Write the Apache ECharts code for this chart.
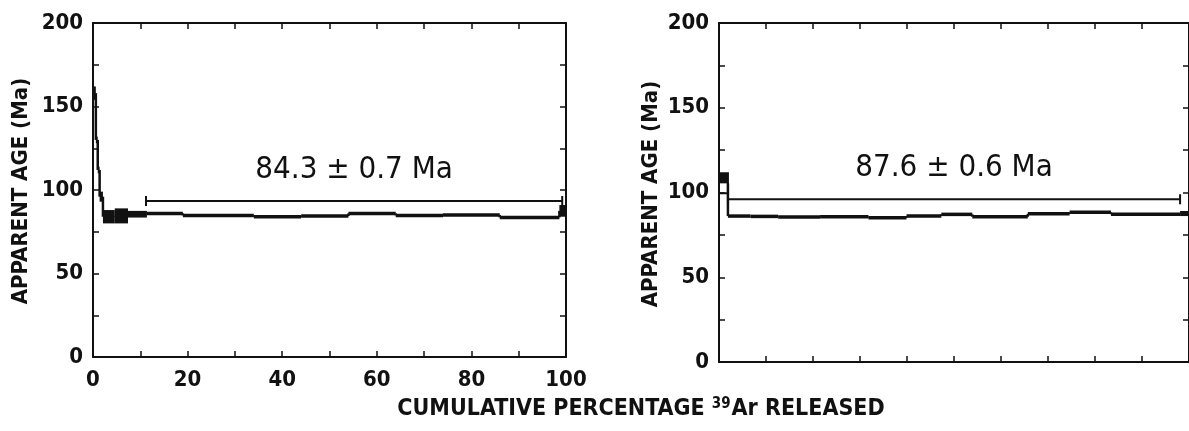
<!DOCTYPE html>
<html>
<head>
<meta charset="utf-8">
<script src="https://cdn.jsdelivr.net/npm/echarts@6/dist/echarts.min.js"></script>
<style>
  html, body { margin: 0; padding: 0; background: #fff; }
  #chart { width: 1189px; height: 431px; }
</style>
</head>
<body>
<div id="chart"></div>
<script>
// step boundaries (cumulative % 39Ar), apparent age and half-height of each box (Ma)
const leftEdges = [0, 0.6, 1.0, 1.4, 2.1, 4.6, 7.4, 11.4, 19, 34, 44, 54, 64, 74, 86, 98.6, 100]
const leftAge = [158, 130, 112, 96, 84, 84.5, 85.5, 86, 84.8, 84, 84.4, 86, 84.8, 85, 83.6, 87.5]
const leftErr = [4, 2, 2, 3, 4, 4.5, 2, 0.8, 0.6, 0.6, 0.6, 0.6, 0.8, 0.6, 0.6, 3.5]
const leftPlateau = [11.2, 99.2, 93.4]
const leftLabel = '84.3 ± 0.7 Ma'

const rightEdges = [0, 1.9, 6.7, 12.6, 21.5, 31.8, 39.9, 47.3, 53.9, 65.7, 74.6, 83.4, 98.1, 100]
const rightAge = [105.4, 86.1, 85.9, 85.6, 85.7, 85.1, 86.1, 87.1, 85.7, 87.4, 88.3, 87.2, 87.6]
const rightErr = [5.9, 0.9, 0.5, 0.5, 0.5, 0.6, 0.5, 0.5, 0.5, 0.5, 0.5, 0.5, 1.5]
const rightOpenSteps = [0]   // drawn as an open box
const rightPlateau = [1.9, 98.1, 96]
const rightLabel = '87.6 ± 0.6 Ma'

const xTicks = [0, 20, 40, 60, 80, 100]
const yTicks = [0, 50, 100, 150, 200]

const FONT = '"DejaVu Sans Condensed", "DejaVu Sans", sans-serif'
const INK = '#111'
const MIN_H = 3.5

function stepRows(edges, ages, errs, open) {
  return ages.map((a, i) => [edges[i], edges[i + 1], a, errs[i], i > 0 ? ages[i - 1] : a, open.includes(i) ? 1 : 0])
}

function renderStep(params, api) {
  const x0 = api.value(0), x1 = api.value(1)
  const age = api.value(2), err = api.value(3), prev = api.value(4), open = api.value(5)
  const p0 = api.coord([x0, age + err])
  const p1 = api.coord([x1, age - err])
  const pc = api.coord([x1, age])
  const thin = p1[1] - p0[1] < MIN_H
  const h = thin ? MIN_H : p1[1] - p0[1]
  const y = thin ? pc[1] - MIN_H / 2 : p0[1]
  const children = []
  if (params.dataIndex > 0) {
    const a = api.coord([x0, prev])
    const b = api.coord([x0, age])
    children.push({ type: 'line', shape: { x1: a[0], y1: a[1], x2: b[0], y2: b[1] }, style: { stroke: INK, lineWidth: 2.5 } })
  }
  if (open) {
    children.push({ type: 'rect', shape: { x: p0[0], y: p0[1], width: p1[0] - p0[0], height: pc[1] - p0[1] }, style: { fill: INK } })
    children.push({ type: 'rect', shape: { x: p0[0], y: p0[1], width: p1[0] - p0[0], height: h }, style: { fill: 'none', stroke: INK, lineWidth: 2 } })
  } else {
    children.push({ type: 'rect', shape: { x: p0[0], y: y, width: p1[0] - p0[0], height: h }, style: { fill: INK } })
  }
  return { type: 'group', children }
}

function renderPlateau(label) {
  return (params, api) => {
    const a = api.coord([api.value(0), api.value(2)])
    const b = api.coord([api.value(1), api.value(2)])
    const ln = (x1, y1, x2, y2) => ({ type: 'line', shape: { x1, y1, x2, y2 }, style: { stroke: INK, lineWidth: 2 } })
    return {
      type: 'group',
      children: [
        ln(a[0], a[1], b[0], b[1]),
        ln(a[0], a[1] - 5, a[0], a[1] + 5),
        ln(b[0], b[1] - 5, b[0], b[1] + 5),
        {
          type: 'text',
          style: {
            text: label, x: (a[0] + b[0]) / 2, y: a[1] - 31,
            align: 'center', verticalAlign: 'middle',
            font: `31px ${FONT}`, fill: INK,
          },
        },
      ],
    }
  }
}

const lineStyle = { color: INK, width: 2 }
const tickLabel = { color: INK, fontSize: 22, fontFamily: FONT, fontWeight: 'bold' }

function xAxes(gridIndex, withLabels) {
  const base = {
    gridIndex, type: 'value', min: 0, max: 100, interval: 10,
    axisLine: { onZero: false, lineStyle },
    axisTick: { inside: true, length: 6, lineStyle: { color: INK, width: 1.5 } },
    splitLine: { show: false },
  }
  return [
    { ...base, position: 'bottom', axisLabel: { show: withLabels, margin: 12, ...tickLabel, formatter: v => xTicks.includes(v) ? String(v) : '' } },
    { ...base, position: 'top', axisLabel: { show: false } },
  ]
}

function yAxes(gridIndex) {
  const base = {
    gridIndex, type: 'value', min: 0, max: 200, interval: 25,
    axisLine: { onZero: false, lineStyle },
    axisTick: { inside: true, length: 6, lineStyle: { color: INK, width: 1.5 } },
    splitLine: { show: false },
  }
  return [
    { ...base, position: 'left', axisLabel: { margin: 10, ...tickLabel, formatter: v => yTicks.includes(v) ? String(v) : '' } },
    { ...base, position: 'right', axisLabel: { show: false } },
  ]
}

const yTitle = (x, y) => ({
  type: 'text', x, y, rotation: Math.PI / 2,
  style: { text: 'APPARENT AGE (Ma)', align: 'center', verticalAlign: 'middle', font: `bold 22px ${FONT}`, fill: INK },
})

const chart = echarts.init(document.getElementById('chart'), null, { renderer: 'canvas' })
chart.setOption({
  animation: false,
  backgroundColor: '#fff',
  grid: [
    { left: 93, top: 23, width: 473, height: 334 },
    { left: 719, top: 23, width: 473, height: 339 },
  ],
  xAxis: [...xAxes(0, true), ...xAxes(1, false)],
  yAxis: [...yAxes(0), ...yAxes(1)],
  graphic: [
    yTitle(21, 191),
    yTitle(651, 194),
    {
      type: 'text', x: 641, y: 409,
      style: {
        text: '{a|CUMULATIVE PERCENTAGE }{s|39}{a|Ar RELEASED}',
        align: 'center', verticalAlign: 'middle',
        rich: {
          a: { font: `bold 23px ${FONT}`, fill: INK, lineHeight: 28 },
          s: { font: `bold 15px ${FONT}`, fill: INK, lineHeight: 28, padding: [0, 1, 10, 0] },
        },
      },
    },
  ],
  series: [
    { type: 'custom', xAxisIndex: 0, yAxisIndex: 0, renderItem: renderStep, data: stepRows(leftEdges, leftAge, leftErr, []) },
    { type: 'custom', xAxisIndex: 0, yAxisIndex: 0, renderItem: renderPlateau(leftLabel), data: [leftPlateau] },
    { type: 'custom', xAxisIndex: 2, yAxisIndex: 2, renderItem: renderStep, data: stepRows(rightEdges, rightAge, rightErr, rightOpenSteps) },
    { type: 'custom', xAxisIndex: 2, yAxisIndex: 2, renderItem: renderPlateau(rightLabel), data: [rightPlateau] },
  ],
})
</script>
</body>
</html>
